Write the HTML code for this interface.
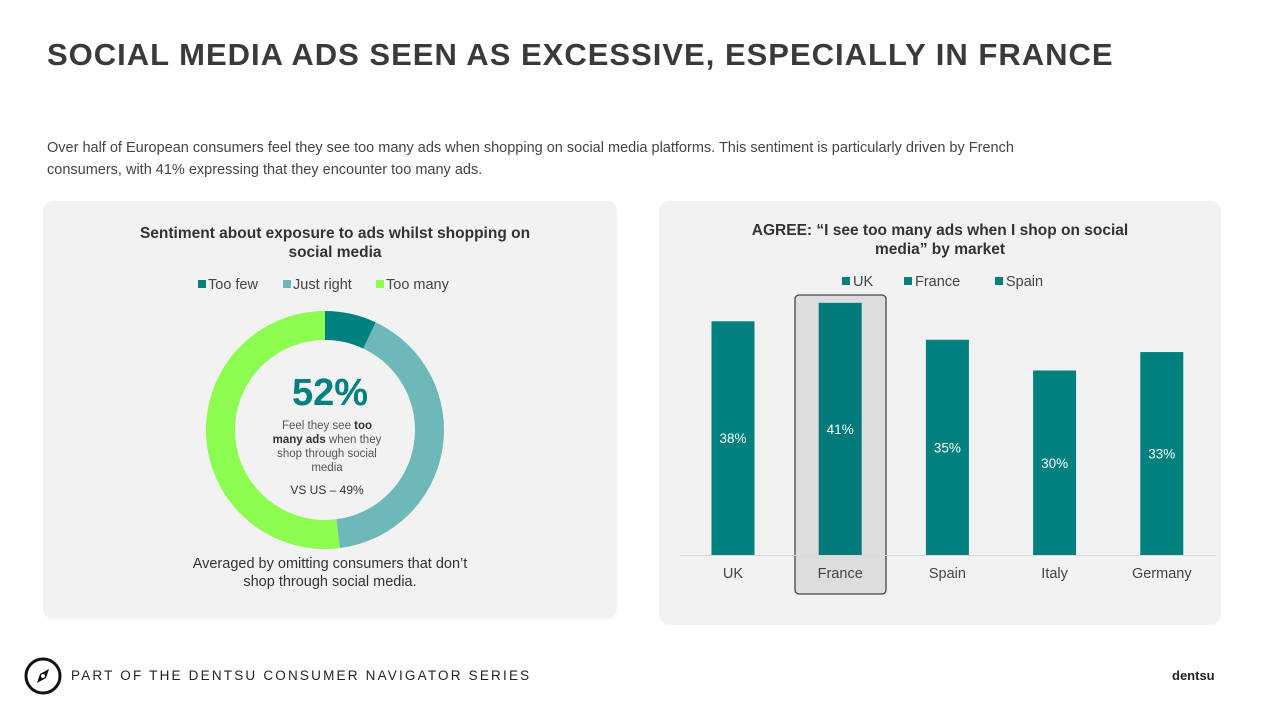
<!DOCTYPE html>
<html><head><meta charset="utf-8"><style>
body{margin:0;width:1267px;height:707px;background:#fff;font-family:"Liberation Sans",sans-serif;position:relative;overflow:hidden;color:#333}
.abs{position:absolute}
.panel{position:absolute;background:#f2f2f2;border-radius:10px}
#svg{z-index:2}
</style></head><body>
<div class="abs" style="left:47px;top:37px;font-size:31px;font-weight:bold;color:#3a3a3a;letter-spacing:1px">SOCIAL MEDIA ADS SEEN AS EXCESSIVE, ESPECIALLY IN FRANCE</div>
<div class="abs" style="left:47px;top:137px;width:1030px;font-size:14.5px;line-height:22px;color:#444">Over half of European consumers feel they see too many ads when shopping on social media platforms. This sentiment is particularly driven by French consumers, with 41% expressing that they encounter too many ads.</div>

<div class="panel" style="left:43px;top:201px;width:574px;height:418px"></div>
<div class="panel" style="left:659px;top:201px;width:562px;height:424px"></div>
<div class="abs" style="left:43px;top:224px;width:584px;text-align:center;font-size:15.5px;font-weight:bold;line-height:19px;color:#333;z-index:3">Sentiment about exposure to ads whilst shopping on<br>social media</div>
<div class="abs" style="left:43px;top:555px;width:574px;text-align:center;font-size:14.5px;line-height:18px;color:#333;z-index:3">Averaged by omitting consumers that don’t<br>shop through social media.</div>
<div class="abs" style="left:659px;top:221px;width:562px;text-align:center;font-size:15.5px;font-weight:bold;line-height:19px;color:#333;z-index:3">AGREE: “I see too many ads when I shop on social<br>media” by market</div>

<svg class="abs" style="left:0;top:0" width="1267" height="707" id="svg"></svg>

<svg class="abs" style="left:24px;top:657px" width="40" height="40"><circle cx="19" cy="19" r="17" fill="none" stroke="#111" stroke-width="3"/><path d="M25 12 L16 17 L13 26 L22 21 Z" fill="#111"/><circle cx="19" cy="19" r="2" fill="#fff"/></svg>
<div class="abs" style="left:71px;top:668px;font-size:13.5px;letter-spacing:2.2px;color:#222">PART OF THE DENTSU CONSUMER NAVIGATOR SERIES</div>
<div class="abs" style="left:1172px;top:668px;font-size:13px;font-weight:bold;color:#222">dentsu</div>

<script>
const donutLabels=["Too few","Just right","Too many"];
const donutValues=[7,41,52];
const donutColors=["#00807f","#6fb8b9","#8cfc50"];
const barCats=["UK","France","Spain","Italy","Germany"];
const barValues=[38,41,35,30,33];
const legendLabels=["UK","France","Spain"];

const svg=document.getElementById('svg');
const NS='http://www.w3.org/2000/svg';
function mk(t,a,p){const e=document.createElementNS(NS,t);for(const k in a)e.setAttribute(k,a[k]);(p||svg).appendChild(e);return e;}

const dlx=[198,283,376];
donutLabels.forEach((l,i)=>{
 const r=mk('rect',{x:dlx[i],y:280,width:8,height:8,fill:donutColors[i]});
 
 
 const t=mk('text',{x:dlx[i]+10,y:289,'font-size':14.5,fill:'#444','font-family':'Liberation Sans'});
 t.textContent=l;
 
 
});

const cx=325,cy=430,R=119,r0=90;
const total=donutValues.reduce((a,b)=>a+b,0);
let ang=0;
donutValues.forEach((v,i)=>{
 const a0=ang/total*2*Math.PI, a1=(ang+v)/total*2*Math.PI; ang+=v;
 const p=(a,rr)=>[cx+rr*Math.sin(a),cy-rr*Math.cos(a)];
 const [x0,y0]=p(a0,R),[x1,y1]=p(a1,R),[x2,y2]=p(a1,r0),[x3,y3]=p(a0,r0);
 const lg=(a1-a0)>Math.PI?1:0;
 const s=mk('path',{d:`M${x0},${y0}A${R},${R} 0 ${lg} 1 ${x1},${y1}L${x2},${y2}A${r0},${r0} 0 ${lg} 0 ${x3},${y3}Z`,fill:donutColors[i]});
 
 
});
const big=mk('text',{x:cx+5,y:405,'text-anchor':'middle','font-size':38,'font-weight':'bold',fill:'#00807f','font-family':'Liberation Sans'});
big.textContent=donutValues[2]+'%';


const cl=mk('text',{x:cx+2,y:429,'text-anchor':'middle','font-size':11.5,fill:'#555','font-family':'Liberation Sans'});


function tsp(txt,b,x,dy){const t=mk('tspan',b?{'font-weight':'bold',fill:'#333'}:{},cl);if(x!==undefined){t.setAttribute('x',x);t.setAttribute('dy',dy);}t.textContent=txt;}
tsp('Feel they see ',0);tsp('too',1);
tsp('many ads',1,cx+2,14);tsp(' when they',0);
tsp('shop through social',0,cx+2,14);
tsp('media',0,cx+2,14);
const vs=mk('text',{x:cx+2,y:494,'text-anchor':'middle','font-size':12,fill:'#333','font-family':'Liberation Sans'});
vs.textContent='VS US – 49%';



const base=555, pxPer=6.15, x0b=733, step=107.2, bw=43;
const xs=i=>x0b+i*step;
const ys=v=>base-v*pxPer;
const hl=mk('rect',{x:795,y:295,width:91,height:299,rx:4,fill:'#dddddd',stroke:'#444','stroke-width':1.3});


const ax=mk('line',{x1:680,x2:1216,y1:base+0.5,y2:base+0.5,stroke:'#d9d9d9'});


barCats.forEach((c,i)=>{
 const v=barValues[i];
 const b=mk('rect',{x:xs(i)-bw/2,y:ys(v),width:bw,height:base-ys(v),fill:i===1?'#007a7a':'#00807f'});
 
 
 const t=mk('text',{x:xs(i),y:(ys(v)+base)/2+5,'text-anchor':'middle','font-size':13.5,fill:'#fff','font-family':'Liberation Sans'});
 t.textContent=v+'%';
 
 
 const l=mk('text',{x:xs(i),y:578,'text-anchor':'middle','font-size':14.5,fill:'#444','font-family':'Liberation Sans'});
 l.textContent=c;
 
 
});
const blx=[842,904,995];
legendLabels.forEach((l,i)=>{
 const r=mk('rect',{x:blx[i],y:277,width:8,height:8,fill:'#00807f'});
 
 
 const t=mk('text',{x:blx[i]+11,y:286,'font-size':14.5,fill:'#444','font-family':'Liberation Sans'});
 t.textContent=l;
 
 
});
</script>
</body></html>
